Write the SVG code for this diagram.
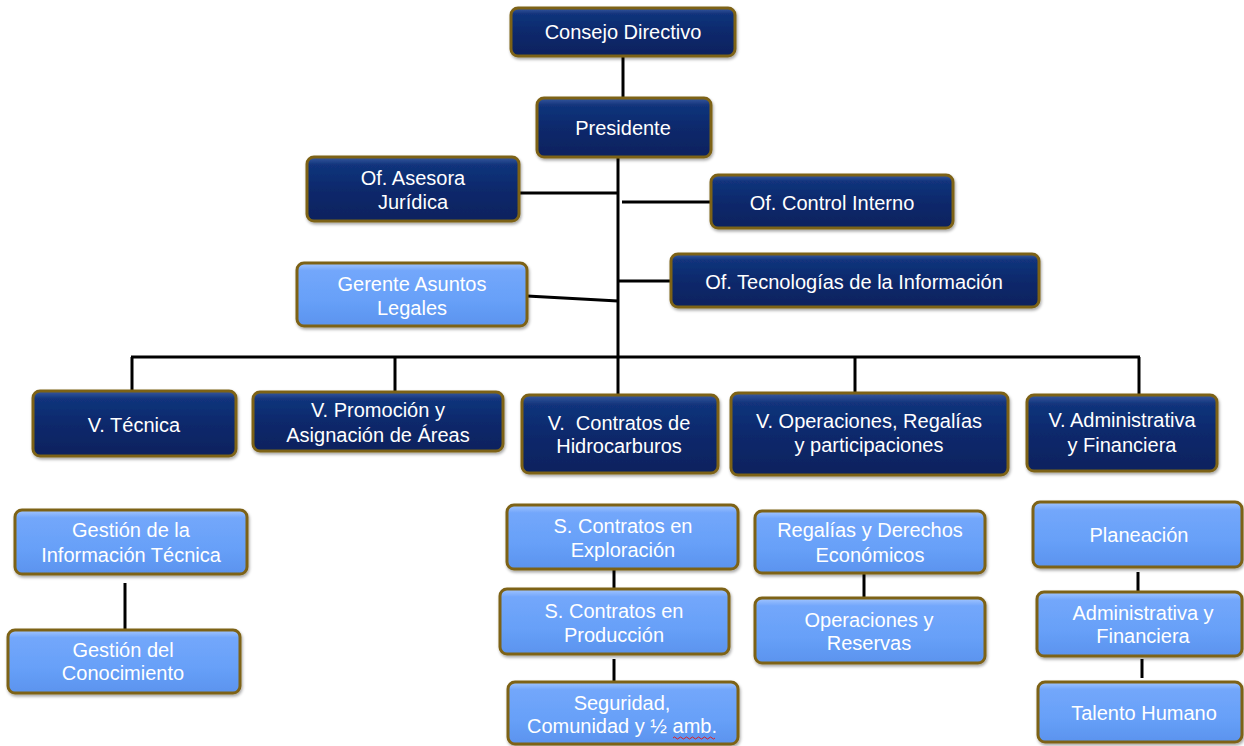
<svg xmlns="http://www.w3.org/2000/svg" width="1244" height="746" viewBox="0 0 1244 746">
<defs>
<linearGradient id="gd" x1="0" y1="0" x2="0" y2="1">
<stop offset="0" stop-color="#3a5aa0"/>
<stop offset="0.12" stop-color="#12347c"/>
<stop offset="0.5" stop-color="#0a296c"/>
<stop offset="1" stop-color="#07225e"/>
</linearGradient>
<linearGradient id="gl" x1="0" y1="0" x2="0" y2="1">
<stop offset="0" stop-color="#a4c6ff"/>
<stop offset="0.12" stop-color="#73a7fb"/>
<stop offset="0.6" stop-color="#67a0f8"/>
<stop offset="1" stop-color="#5b93ee"/>
</linearGradient>
<filter id="sh" x="-10%" y="-10%" width="120%" height="130%">
<feDropShadow dx="1" dy="2" stdDeviation="1.5" flood-color="#000" flood-opacity="0.35"/>
</filter>
</defs>
<style>
.d{fill:url(#gd);stroke:#7d6216;stroke-width:3;filter:url(#sh)}
.l{fill:url(#gl);stroke:#7d6216;stroke-width:3;filter:url(#sh)}
text{font-family:"Liberation Sans",Arial,sans-serif;font-size:20px;fill:#fff;text-anchor:middle}
.c line{stroke:#000;stroke-width:3;fill:none}
</style>
<rect width="1244" height="746" fill="#fff"/>
<g class="c" id="connectors">
<line x1="623" y1="56" x2="623" y2="98"/>
<line x1="618" y1="157" x2="618" y2="357"/>
<line x1="519" y1="193" x2="618" y2="193"/>
<line x1="622" y1="202" x2="711" y2="202"/>
<line x1="527" y1="296" x2="618" y2="301"/>
<line x1="618" y1="281" x2="671" y2="281"/>
<line x1="131" y1="357" x2="1140" y2="357"/>
<line x1="132" y1="357" x2="132" y2="391"/>
<line x1="395" y1="357" x2="395" y2="392"/>
<line x1="618" y1="357" x2="618" y2="395"/>
<line x1="855" y1="357" x2="855" y2="393"/>
<line x1="1139" y1="357" x2="1139" y2="395"/>
<line x1="125" y1="583" x2="125" y2="630"/>
<line x1="614" y1="569" x2="614" y2="594"/>
<line x1="614" y1="659" x2="614" y2="686"/>
<line x1="864" y1="573" x2="864" y2="598"/>
<line x1="1138" y1="572" x2="1138" y2="597"/>
<line x1="1142" y1="659" x2="1142" y2="678"/>
</g>
<g id="consejo"><rect class="d" x="511" y="8" width="224" height="48" rx="7"/><text x="623" y="39">Consejo Directivo</text></g>
<g id="presidente"><rect class="d" x="537" y="98" width="174" height="59" rx="7"/><text x="623" y="135">Presidente</text></g>
<g id="asesora"><rect class="d" x="307" y="157" width="212" height="64" rx="7"/><text x="413" y="185">Of. Asesora</text><text x="413" y="209">Jurídica</text></g>
<g id="control"><rect class="d" x="711" y="175" width="242" height="53" rx="7"/><text x="832" y="210">Of. Control Interno</text></g>
<g id="gerente"><rect class="l" x="297" y="263" width="230" height="63" rx="7"/><text x="412" y="291">Gerente Asuntos</text><text x="412" y="315">Legales</text></g>
<g id="tecnologias"><rect class="d" x="671" y="254" width="368" height="53" rx="7"/><text x="854" y="289">Of. Tecnologías de la Información</text></g>
<g id="vtecnica"><rect class="d" x="33" y="391" width="203" height="65" rx="7"/><text x="134" y="432">V. Técnica</text></g>
<g id="vpromocion"><rect class="d" x="253" y="392" width="250" height="59" rx="7"/><text x="378" y="417">V. Promoción y</text><text x="378" y="442">Asignación de Áreas</text></g>
<g id="vcontratos"><rect class="d" x="522" y="395" width="196" height="78" rx="7"/><text x="619" y="430" xml:space="preserve">V.  Contratos de</text><text x="619" y="453">Hidrocarburos</text></g>
<g id="voperaciones"><rect class="d" x="731" y="393" width="277" height="82" rx="7"/><text x="869" y="428">V. Operaciones, Regalías</text><text x="869" y="452">y participaciones</text></g>
<g id="vadministrativa"><rect class="d" x="1027" y="395" width="190" height="76" rx="7"/><text x="1122" y="427">V. Administrativa</text><text x="1122" y="452">y Financiera</text></g>
<g id="gestioninfo"><rect class="l" x="15" y="510" width="232" height="64" rx="7"/><text x="131" y="537">Gestión de la</text><text x="131" y="562">Información Técnica</text></g>
<g id="gestionconoc"><rect class="l" x="8" y="630" width="232" height="63" rx="7"/><text x="123" y="657">Gestión del</text><text x="123" y="680">Conocimiento</text></g>
<g id="sexploracion"><rect class="l" x="507" y="505" width="231" height="64" rx="7"/><text x="623" y="533">S. Contratos en</text><text x="623" y="557">Exploración</text></g>
<g id="sproduccion"><rect class="l" x="500" y="589" width="229" height="65" rx="7"/><text x="614" y="618">S. Contratos en</text><text x="614" y="642">Producción</text></g>
<g id="seguridad"><rect class="l" x="508" y="682" width="230" height="62" rx="7"/><text x="622" y="710">Seguridad,</text><text x="622" y="733">Comunidad y ½ amb.</text><path d="M673 738 q1.5 -2 3 0 t3 0 t3 0 t3 0 t3 0 t3 0 t3 0 t3 0 t3 0 t3 0 t3 0 t3 0 t3 0 t3 0" fill="none" stroke="#e02020" stroke-width="1"/></g>
<g id="regalias"><rect class="l" x="755" y="511" width="230" height="62" rx="7"/><text x="870" y="537">Regalías y Derechos</text><text x="870" y="562">Económicos</text></g>
<g id="operaciones"><rect class="l" x="755" y="598" width="230" height="65" rx="7"/><text x="869" y="627">Operaciones y</text><text x="869" y="650">Reservas</text></g>
<g id="planeacion"><rect class="l" x="1033" y="502" width="209" height="65" rx="7"/><text x="1139" y="542">Planeación</text></g>
<g id="adminfin"><rect class="l" x="1037" y="592" width="205" height="64" rx="7"/><text x="1143" y="620">Administrativa y</text><text x="1143" y="643">Financiera</text></g>
<g id="talento"><rect class="l" x="1038" y="682" width="204" height="60" rx="7"/><text x="1144" y="720">Talento Humano</text></g>
</svg>
